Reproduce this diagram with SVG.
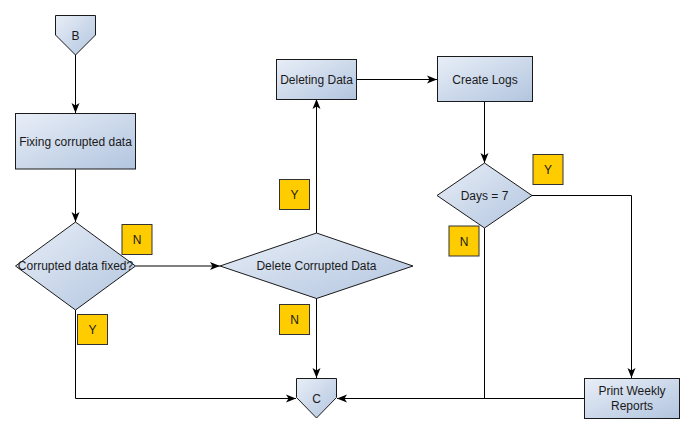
<svg xmlns="http://www.w3.org/2000/svg" width="695" height="434" viewBox="0 0 695 434">
<defs>
<linearGradient id="g" x1="0" y1="0" x2="1" y2="1">
<stop offset="0" stop-color="#e8eef7"/>
<stop offset="1" stop-color="#b2c5df"/>
</linearGradient>
<marker id="arr" markerUnits="userSpaceOnUse" markerWidth="11" markerHeight="9" refX="10.5" refY="4.5" orient="auto">
<path d="M0.5,0.5 L10.5,4.5 L0.5,8.5 L3,4.5 z" fill="#000"/>
</marker>
<style>
.n{fill:url(#g);stroke:#1a1a1a;stroke-width:1}
.t{font-family:"Liberation Sans",Arial,sans-serif;font-size:12px;fill:#1a1a1a;text-anchor:middle}
.lb{fill:#ffcc00;stroke:#333;stroke-width:1}
.e{fill:none;stroke:#000;stroke-width:1}
.a{marker-end:url(#arr)}
</style>
</defs>
<rect width="695" height="434" fill="#fff"/>
<g id="connectors">
<path class="e a" d="M75.5,55 V113"/>
<path class="e a" d="M75.5,169 V222"/>
<path class="e a" d="M135.5,266 H220"/>
<path class="e a" d="M75.5,310 V398.5 H296"/>
<path class="e a" d="M316.5,233 V99"/>
<path class="e a" d="M316.5,298 V378"/>
<path class="e a" d="M357,79.5 H437"/>
<path class="e a" d="M484.5,101 V163"/>
<path class="e a" d="M532,195.5 H631.5 V378"/>
<path class="e" d="M484.5,228 V398.5"/>
<path class="e a" d="M584,398.5 H337"/>
</g>
<g id="node-B">
<polygon class="n" points="55.5,15.5 95.5,15.5 95.5,35 75.5,55 55.5,35"/>
<text class="t" x="75.5" y="40">B</text>
</g>
<g id="node-fixing">
<rect class="n" x="15.5" y="113.5" width="120" height="55.5"/>
<text class="t" x="75.5" y="145.5">Fixing corrupted data</text>
</g>
<g id="node-fixed">
<polygon class="n" points="75.5,222 135.5,266 75.5,310 15.5,266"/>
<text class="t" x="75.5" y="270">Corrupted data fixed?</text>
</g>
<g id="node-delete-corrupted">
<polygon class="n" points="316.5,233 413,266 316.5,298.5 220,266"/>
<text class="t" x="316.5" y="270">Delete Corrupted Data</text>
</g>
<g id="node-deleting">
<rect class="n" x="276.5" y="59.5" width="80" height="40"/>
<text class="t" x="316.5" y="83.5">Deleting Data</text>
</g>
<g id="node-logs">
<rect class="n" x="437.5" y="56.5" width="95" height="45"/>
<text class="t" x="485" y="83.5">Create Logs</text>
</g>
<g id="node-days">
<polygon class="n" points="484.5,163 532,195.5 484.5,228 437,195.5"/>
<text class="t" x="484.5" y="199.5">Days = 7</text>
</g>
<g id="node-print">
<rect class="n" x="584.5" y="378.5" width="95" height="40"/>
<text class="t" x="632" y="395">Print Weekly</text>
<text class="t" x="632" y="410">Reports</text>
</g>
<g id="node-C">
<polygon class="n" points="296.5,378.5 336.5,378.5 336.5,397.5 316.5,418 296.5,397.5"/>
<text class="t" x="316.5" y="403">C</text>
</g>
<g id="label-N1"><rect class="lb" x="122" y="224.5" width="30" height="30"/><text class="t" x="137" y="244">N</text></g>
<g id="label-Y1"><rect class="lb" x="77.5" y="314.5" width="30" height="30"/><text class="t" x="92.5" y="334">Y</text></g>
<g id="label-Y2"><rect class="lb" x="279.5" y="179.5" width="30" height="30"/><text class="t" x="294.5" y="199">Y</text></g>
<g id="label-N2"><rect class="lb" x="279.5" y="304.5" width="30" height="30"/><text class="t" x="294.5" y="324">N</text></g>
<g id="label-Y3"><rect class="lb" x="533" y="154.5" width="30" height="30"/><text class="t" x="548" y="174">Y</text></g>
<g id="label-N3"><rect class="lb" x="449" y="226" width="30" height="30"/><text class="t" x="464" y="245.5">N</text></g>
</svg>
